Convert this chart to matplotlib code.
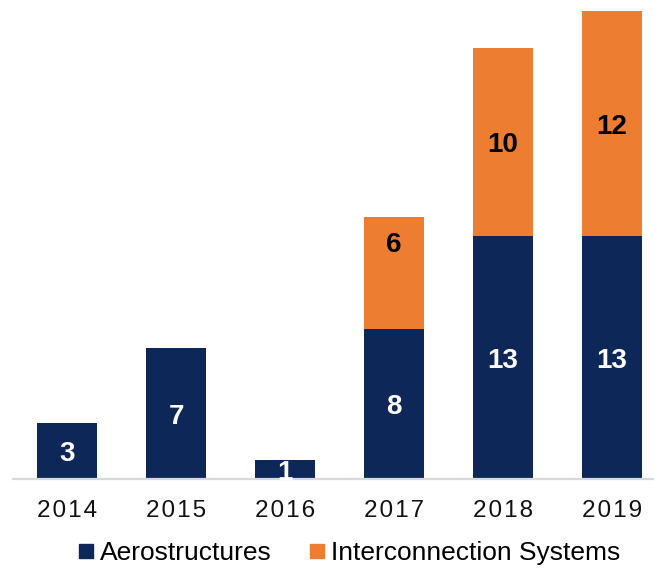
import matplotlib.pyplot as plt
from matplotlib.lines import Line2D

years = ["2014", "2015", "2016", "2017", "2018", "2019"]
aerostructures = [3, 7, 1, 8, 13, 13]
interconnection = [0, 0, 0, 6, 10, 12]

NAVY = "#0D2759"
ORANGE = "#ED7D31"

plt.rcParams["font.family"] = ["Liberation Sans", "DejaVu Sans"]

W, H = 654, 568
fig = plt.figure(figsize=(W / 100, H / 100), dpi=100)

# baseline at y=479px, 18.72 px per unit, 109 px per category
ax = fig.add_axes([12.5 / W, (H - 479) / H, (W - 12.5) / W, 25.5 * 18.72 / H])
ax.set_xlim(-0.5, -0.5 + (W - 12.5) / 109)
ax.set_ylim(0, 25.5)

x = range(len(years))
ax.bar(x, aerostructures, width=0.55, color=NAVY, zorder=2)
ax.bar(x, interconnection, width=0.55, bottom=aerostructures, color=ORANGE, zorder=2)

label_kw = dict(ha="center", va="center", fontsize=20, fontweight="bold",
                textcoords="offset points", xytext=(0, -2.3), zorder=3)
for i, (a, b) in enumerate(zip(aerostructures, interconnection)):
    ax.annotate(str(a), (i, a / 2), color="white", **label_kw)
    if b:
        yb = a + b / 2
        if b < 8:
            yb = a + b - 1.35
        ax.annotate(str(b), (i, yb), color="black", **label_kw)

for s in ["top", "right", "left"]:
    ax.spines[s].set_visible(False)
ax.spines["bottom"].set_color("#D9D9D9")
ax.spines["bottom"].set_linewidth(1.6)
ax.set_yticks([])
ax.set_xticks(list(x))
# reference uses wide letter spacing on the year labels
ax.set_xticklabels(["\u200a".join(y) for y in years], fontsize=17.5, color="#111111")
ax.tick_params(axis="x", length=0, pad=15)

handles = [
    Line2D([], [], marker="s", linestyle="none", markersize=9.5, color=NAVY),
    Line2D([], [], marker="s", linestyle="none", markersize=9.5, color=ORANGE),
]
fig.legend(handles, ["Aerostructures", "Interconnection Systems"],
           loc="center", bbox_to_anchor=(349 / W, 1 - 553 / H), ncol=2,
           frameon=False, fontsize=19, handlelength=0.6, handletextpad=0.25,
           columnspacing=1.4, borderpad=0)

fig.savefig("out.png", dpi=100)
